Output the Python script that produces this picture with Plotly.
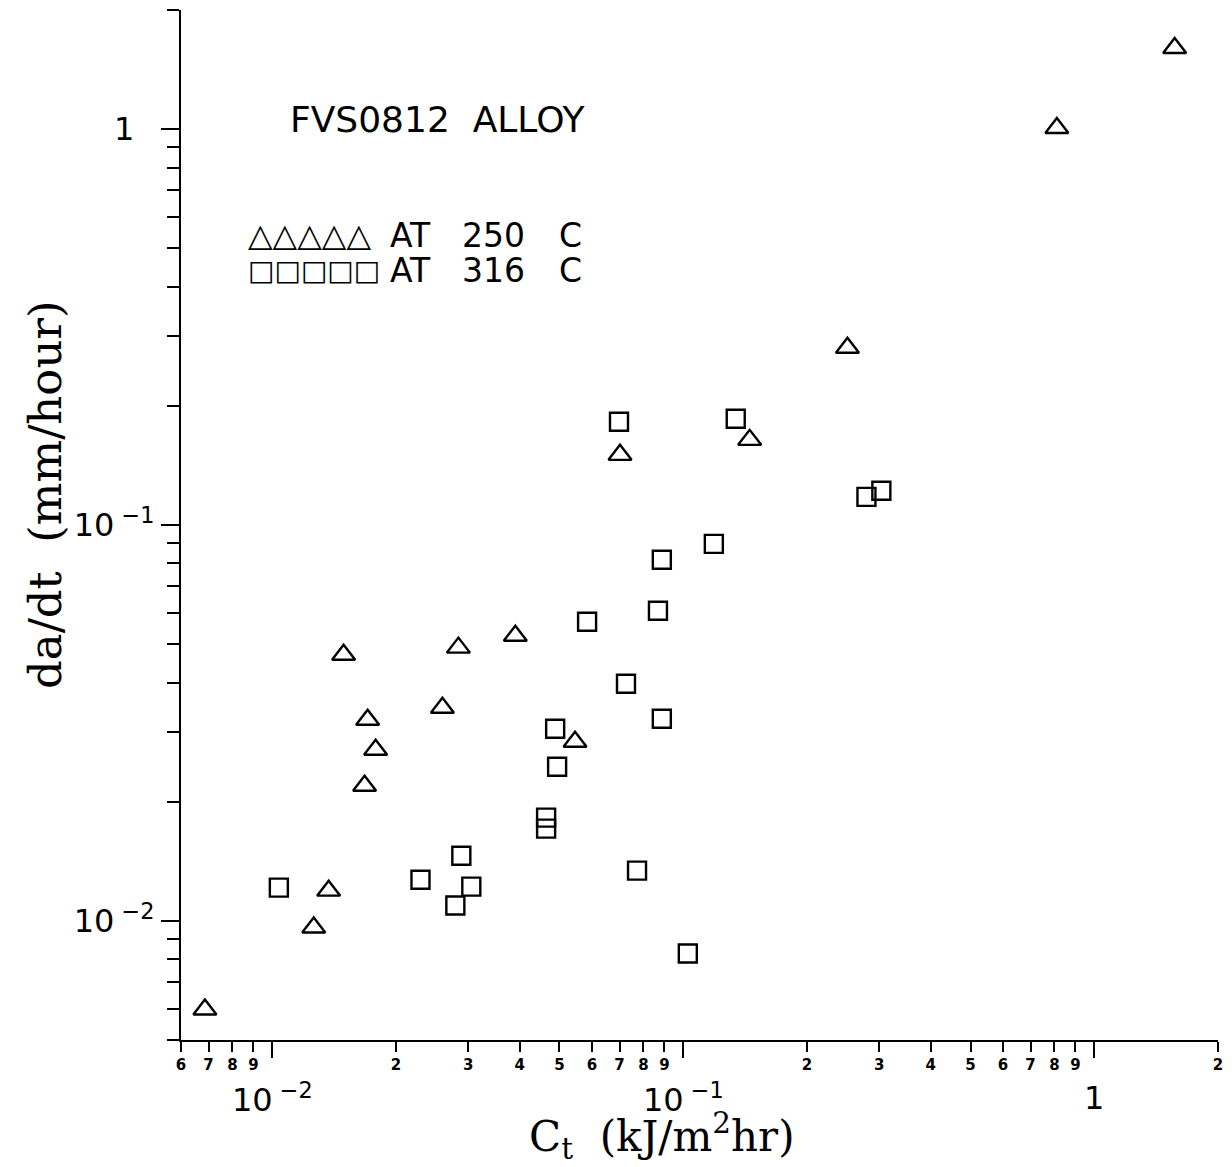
import math
import plotly.graph_objects as go

# ---- data ----
tri_250_x = [0.00686, 0.01262, 0.01372, 0.01492, 0.01707, 0.01785, 0.01678, 0.02595,
             0.02838, 0.03904, 0.05455, 0.07018, 0.1451, 0.2509, 0.811, 1.569]
tri_250_y = [0.00597, 0.00962, 0.01192, 0.0470, 0.0322, 0.02706, 0.02195, 0.03455,
             0.0490, 0.05252, 0.02835, 0.1504, 0.1641, 0.2803, 1.007, 1.603]

sq_316_x = [0.01038, 0.02295, 0.0279, 0.02885, 0.03051, 0.04639, 0.04639, 0.0488,
            0.04934, 0.05836, 0.06978, 0.07257, 0.0772, 0.0868, 0.0887, 0.0887,
            0.1026, 0.1187, 0.1342, 0.2791, 0.3034]
sq_316_y = [0.01213, 0.0127, 0.01093, 0.0146, 0.0122, 0.01823, 0.0171, 0.03057,
            0.02451, 0.05697, 0.1823, 0.0397, 0.01339, 0.0607, 0.0817, 0.0324,
            0.00827, 0.0896, 0.1855, 0.1178, 0.122]

x_minor_vals = [0.006, 0.007, 0.008, 0.009,
                0.02, 0.03, 0.04, 0.05, 0.06, 0.07, 0.08, 0.09,
                0.2, 0.3, 0.4, 0.5, 0.6, 0.7, 0.8, 0.9, 2]
x_minor_text = ["6", "7", "8", "9",
                "2", "3", "4", "5", "6", "7", "8", "9",
                "2", "3", "4", "5", "6", "7", "8", "9", "2"]
x_major_vals = [0.01, 0.1, 1]
x_major_text = ["10<sup> −2</sup>", "10<sup> −1</sup>", "1"]

y_major_vals = [0.01, 0.1, 1]
y_major_text = ["10<sup> −2</sup>", "10<sup> −1</sup>", "1&nbsp;&nbsp;"]
y_minor_vals = [0.005, 0.006, 0.007, 0.008, 0.009,
                0.02, 0.03, 0.04, 0.05, 0.06, 0.07, 0.08, 0.09,
                0.2, 0.3, 0.4, 0.5, 0.6, 0.7, 0.8, 0.9, 2]

x_range = [0.006, 2]
y_range = [0.005, 2]

title_text = "FVS0812&nbsp;&nbsp;ALLOY"
legend_rows = [
    ("△△△△△", 32, "AT", "250", "C"),
    ("□□□□□", 28, "AT", "316", "C"),
]

SANS = "DejaVu Sans, sans-serif"
SERIF = "DejaVu Serif, Liberation Serif, serif"

# page offset of the figure inside the browser body (default 8px margin)
OFF = 8
W, H = 1232 - OFF, 1167 - OFF
# plot area in screen pixels
SX0, SX1, SY0, SY1 = 181, 1218, 10, 1040
L, T = SX0 - OFF, SY0 - OFF
R, B = W - (SX1 - OFF), H - (SY1 - OFF)


def px(sx):
    return (sx - SX0) / (SX1 - SX0)


def py(sy):
    return (SY1 - sy) / (SY1 - SY0)


fig = go.Figure()
fig.add_trace(go.Scatter(
    x=tri_250_x, y=tri_250_y, mode="markers", name="AT 250 C",
    marker=dict(symbol="triangle-up-open", size=20, color="black",
                line=dict(width=2.4, color="black")),
    cliponaxis=False, showlegend=False))
fig.add_trace(go.Scatter(
    x=sq_316_x, y=sq_316_y, mode="markers", name="AT 316 C",
    marker=dict(symbol="square-open", size=18, color="black",
                line=dict(width=2.4, color="black")),
    cliponaxis=False, showlegend=False))

fig.update_layout(
    width=W, height=H,
    margin=dict(l=L, r=R, t=T, b=B),
    paper_bgcolor="white", plot_bgcolor="white",
    showlegend=False,
    xaxis=dict(
        type="log", range=[math.log10(v) for v in x_range],
        automargin=False,
        showgrid=False, zeroline=False,
        showline=True, linecolor="black", linewidth=2,
        ticks="outside", ticklen=10, tickwidth=2, tickcolor="black",
        tickmode="array", tickvals=x_minor_vals, ticktext=x_minor_text,
        tickfont=dict(family=SANS, size=15, color="black", weight="bold"),
        minor=dict(tickmode="array", tickvals=x_major_vals, ticks="outside",
                   ticklen=16, tickwidth=2, tickcolor="black", showgrid=False),
    ),
    yaxis=dict(
        type="log", range=[math.log10(v) for v in y_range],
        automargin=False,
        showgrid=False, zeroline=False,
        showline=True, linecolor="black", linewidth=2,
        ticks="outside", ticklen=18, tickwidth=2, tickcolor="black",
        tickmode="array", tickvals=y_major_vals, ticktext=y_major_text,
        tickfont=dict(family=SANS, size=32, color="black"),
        ticklabelstandoff=0,
        minor=dict(tickmode="array", tickvals=y_minor_vals, ticks="outside",
                   ticklen=12, tickwidth=2, tickcolor="black", showgrid=False),
    ),
)

# y axis title
fig.add_annotation(x=px(45), xref="paper", y=py(495), yref="paper",
                   text="da/dt&nbsp;&nbsp;(mm/hour)", textangle=-90, showarrow=False,
                   xanchor="center", yanchor="middle",
                   font=dict(family=SERIF, size=45, color="black"))

# major x labels
for v, t in zip(x_major_vals, x_major_text):
    fig.add_annotation(x=math.log10(v), xref="x", y=py(1098), yref="paper",
                       text=t, showarrow=False, xanchor="center", yanchor="middle",
                       font=dict(family=SANS, size=32, color="black"))

# x axis title
fig.add_annotation(x=px(662), xref="paper", y=py(1136), yref="paper",
                   text="C<sub>t</sub>&nbsp;&nbsp;(kJ/m<sup>2</sup>hr)", showarrow=False,
                   xanchor="center", yanchor="middle",
                   font=dict(family=SERIF, size=42, color="black"))

# in-plot title
fig.add_annotation(x=px(288), xref="paper", y=py(120), yref="paper",
                   text=title_text, showarrow=False, xanchor="left", yanchor="middle",
                   font=dict(family=SANS, size=36, color="black"))

# legend rows
row_y = [235, 270]
for (sym, sym_size, at, temp, unit), yy in zip(legend_rows, row_y):
    fig.add_annotation(x=px(246), xref="paper", y=py(yy), yref="paper",
                       text=sym, showarrow=False, xanchor="left", yanchor="middle",
                       font=dict(family=SANS, size=sym_size, color="black", weight="bold"))
    fig.add_annotation(x=px(388), xref="paper", y=py(yy), yref="paper",
                       text=at, showarrow=False, xanchor="left", yanchor="middle",
                       font=dict(family=SANS, size=33, color="black"))
    fig.add_annotation(x=px(460), xref="paper", y=py(yy), yref="paper",
                       text=temp, showarrow=False, xanchor="left", yanchor="middle",
                       font=dict(family=SANS, size=33, color="black"))
    fig.add_annotation(x=px(557), xref="paper", y=py(yy), yref="paper",
                       text=unit, showarrow=False, xanchor="left", yanchor="middle",
                       font=dict(family=SANS, size=33, color="black"))

fig.write_html("out.html")
